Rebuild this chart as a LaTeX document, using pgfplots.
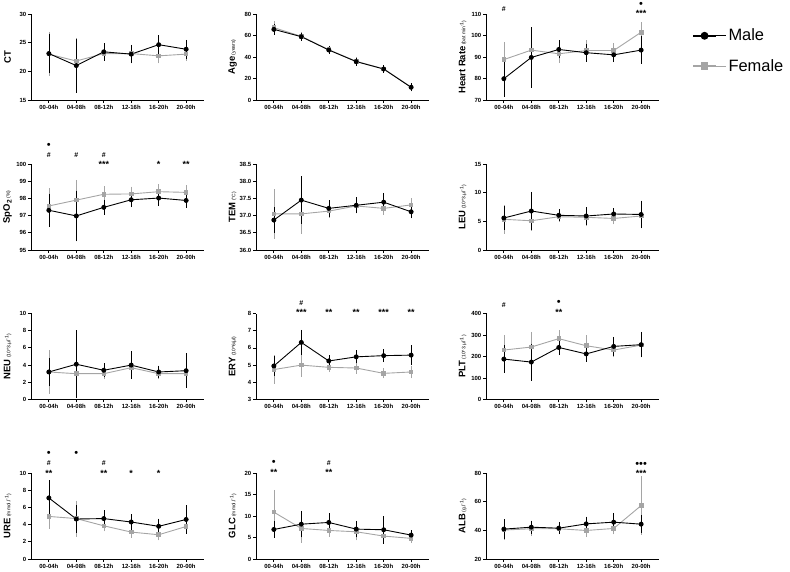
\documentclass[border=0pt]{standalone}
\usepackage{fontspec}
\setmainfont{Liberation Sans}
\usepackage{pgfplots}
\pgfplotsset{compat=1.18}
\definecolor{fem}{RGB}{165,165,165}
\pgfplotsset{
 panel/.style={
  scale only axis, width=173bp, height=86bp,
  axis lines=left,
  axis line style={-, line width=0.9pt},
  xmin=-0.65, xmax=5.65,
  xtick={0,1,2,3,4,5},
  xticklabels={00-04h,04-08h,08-12h,12-16h,16-20h,20-00h},
  tick align=outside,
  major tick length=3bp,
  tick style={black, line width=0.8pt},
  ticklabel style={font=\fontsize{6}{7}\selectfont\bfseries, inner sep=1.5pt},
  /pgf/number format/assume math mode=true,
  clip=false,
  ylabel style={at={(axis description cs:-0.135,0.5)}, anchor=center, font=\fontsize{9.5}{11}\selectfont\bfseries},
 },
 male/.style={black, line width=0.9pt, mark=*, mark size=2bp, mark options={solid},
  error bars/y dir=both, error bars/y explicit,
  error bars/error bar style={line width=0.5pt, black},
  error bars/error mark options={black, line width=0.5pt, mark size=3bp}},
 female/.style={fem, line width=0.9pt, mark=square*, mark size=1.8bp, mark options={solid},
  error bars/y dir=both, error bars/y explicit,
  error bars/error bar style={line width=0.5pt, fem},
  error bars/error mark options={fem, line width=0.5pt, mark size=3bp}},
}
\newcommand\unit[1]{{\fontsize{5}{6}\selectfont\mdseries\ #1}}
\newcommand\ann[3]{\node[inner sep=0pt, font=\fontsize{9}{10}\selectfont\bfseries, yshift=#2] at ({axis cs:#1,0}|-{rel axis cs:0,1}) {#3};}
\newcommand\hsh[2]{\node[inner sep=0pt, font=\fontsize{7}{8}\selectfont\bfseries, yshift=#2] at ({axis cs:#1,0}|-{rel axis cs:0,1}) {\#};}
\newcommand\dotm[3]{\node[inner sep=0pt, font=\fontsize{11}{12}\selectfont, yshift=#2] at ({axis cs:#1,0}|-{rel axis cs:0,1}) {#3};}
\begin{document}
\begin{tikzpicture}
\path[use as bounding box] (0,0) rectangle (790bp,572bp);
% ---------- CT
\begin{axis}[panel, at={(31bp,472bp)}, anchor=south west, ymin=15, ymax=30, ytick={15,20,25,30}, ylabel={CT}]
\addplot[female] table[x=x,y=y,y error=e] {
x y e
0 23.0 3.3
1 21.8 3.5
2 23.1 0.7
3 23.1 0.8
4 22.7 0.8
5 23.0 0.7
};
\addplot[male] table[x=x,y=y,y error=e] {
x y e
0 23.1 2.9
1 21.0 4.2
2 23.4 1.0
3 23.0 1.1
4 24.65 1.1
5 23.85 1.1
};
\end{axis}
% ---------- Age
\begin{axis}[panel, at={(256bp,472bp)}, anchor=south west, ymin=0, ymax=80, ytick={0,20,40,60,80}, ylabel={Age\unit{(years)}}]
\addplot[female] table[x=x,y=y,y error=e] {
x y e
0 67.3 3
1 59.2 1
2 46.8 1
3 36.0 1
4 29.0 0.8
5 12.0 1
};
\addplot[male] table[x=x,y=y,y error=e] {
x y e
0 65.7 2
1 58.9 1
2 46.5 1
3 35.7 1
4 28.8 0.8
5 11.8 1
};
\end{axis}
% ---------- Heart rate
\begin{axis}[panel, at={(486bp,472bp)}, anchor=south west, ymin=70, ymax=110, ytick={70,80,90,100,110}, ylabel={Heart Rate\unit{(bat min\textsuperscript{-1})}},
 legend style={at={(axis description cs:1.19,0.85)}, anchor=north west, draw=none, fill=none, font=\fontsize{16.5}{19}\selectfont, row sep=13bp, inner sep=0pt},
 legend cell align=left, reverse legend,
 legend image code/.code={\draw[mark repeat=2,mark phase=2, line width=2bp, mark size=2.9bp] plot coordinates {(0bp,0bp) (11.5bp,0bp) (23bp,0bp)}; \path (0bp,0bp) -- (33bp,0bp);}]
\addplot[female] table[x=x,y=y,y error=e] {
x y e
0 88.8 6.6
1 93.2 3
2 91.5 3
3 93.0 3.5
4 93.0 2
5 101.5 3.3
};
\addplot[male] table[x=x,y=y,y error=e] {
x y e
0 79.9 7
1 89.8 12.7
2 93.5 2.8
3 92.0 2.8
4 91.0 2.0
5 93.2 5.0
};
\legend{Female, Male}
\hsh{0}{5bp}
\dotm{5}{9bp}{•}
\ann{5}{1bp}{***}
\end{axis}
% ---------- SpO2
\begin{axis}[panel, at={(31bp,322bp)}, anchor=south west, ymin=95, ymax=100, ytick={95,96,97,98,99,100}, ylabel={SpO\textsubscript{2}\unit{(\%)}}]
\addplot[female] table[x=x,y=y,y error=e] {
x y e
0 97.56 0.85
1 97.9 1.0
2 98.24 0.3
3 98.26 0.25
4 98.39 0.25
5 98.35 0.25
};
\addplot[male] table[x=x,y=y,y error=e] {
x y e
0 97.31 0.8
1 96.98 1.3
2 97.48 0.25
3 97.92 0.25
4 98.02 0.3
5 97.88 0.25
};
\dotm{0}{18bp}{•}
\hsh{0}{9bp}
\hsh{1}{9bp}
\hsh{2}{9bp}
\ann{2}{0bp}{***}
\ann{4}{0bp}{*}
\ann{5}{0bp}{**}
\end{axis}
% ---------- TEM
\begin{axis}[panel, at={(256bp,322bp)}, anchor=south west, ymin=36, ymax=38.5, ytick={36,36.5,37,37.5,38,38.5}, yticklabel style={/pgf/number format/.cd, fixed, fixed zerofill, precision=1}, ylabel={TEM\unit{(°C)}}]
\addplot[female] table[x=x,y=y,y error=e] {
x y e
0 37.05 0.63
1 37.05 0.5
2 37.13 0.1
3 37.28 0.12
4 37.21 0.1
5 37.31 0.1
};
\addplot[male] table[x=x,y=y,y error=e] {
x y e
0 36.87 0.28
1 37.45 0.6
2 37.21 0.15
3 37.30 0.15
4 37.39 0.18
5 37.11 0.1
};
\end{axis}
% ---------- LEU
\begin{axis}[panel, at={(486bp,322bp)}, anchor=south west, ymin=0, ymax=15, ytick={0,5,10,15}, ylabel={LEU\unit{(10\textasciicircum 3.µl\textsuperscript{-1})}}]
\addplot[female] table[x=x,y=y,y error=e] {
x y e
0 5.35 2.0
1 5.1 1.2
2 5.8 0.4
3 5.7 1.0
4 5.5 0.5
5 5.93 0.5
};
\addplot[male] table[x=x,y=y,y error=e] {
x y e
0 5.58 1.5
1 6.8 2.8
2 6.05 0.5
3 5.93 1.0
4 6.28 0.5
5 6.2 1.9
};
\end{axis}
% ---------- NEU
\begin{axis}[panel, at={(31bp,172.5bp)}, anchor=south west, ymin=0, ymax=10, ytick={0,2,4,6,8,10}, ylabel={NEU\unit{(10\textasciicircum 3.µl\textsuperscript{-1})}}]
\addplot[female] table[x=x,y=y,y error=e] {
x y e
0 3.2 2.2
1 3.0 1.5
2 3.0 0.3
3 3.7 1.0
4 3.0 0.3
5 3.0 1.25
};
\addplot[male] table[x=x,y=y,y error=e] {
x y e
0 3.2 1.3
1 4.1 3.6
2 3.4 0.45
3 4.0 1.25
4 3.2 0.4
5 3.35 1.65
};
\end{axis}
% ---------- ERY
\begin{axis}[panel, at={(256bp,172.5bp)}, anchor=south west, ymin=3, ymax=8, ytick={3,4,5,6,7,8}, ylabel={ERY\unit{(10\textasciicircum 6/µl)}}]
\addplot[female] table[x=x,y=y,y error=e] {
x y e
0 4.74 0.65
1 5.0 0.5
2 4.87 0.1
3 4.83 0.15
4 4.52 0.12
5 4.6 0.2
};
\addplot[male] table[x=x,y=y,y error=e] {
x y e
0 4.95 0.4
1 6.32 0.55
2 5.24 0.15
3 5.48 0.2
4 5.55 0.2
5 5.58 0.4
};
\hsh{1}{10bp}
\ann{1}{1bp}{***}
\ann{2}{1bp}{**}
\ann{3}{1bp}{**}
\ann{4}{1bp}{***}
\ann{5}{1bp}{**}
\end{axis}
% ---------- PLT
\begin{axis}[panel, at={(486bp,172.5bp)}, anchor=south west, ymin=0, ymax=400, ytick={0,100,200,300,400}, ylabel={PLT\unit{(10\textasciicircum 3.µl\textsuperscript{-1})}}]
\addplot[female] table[x=x,y=y,y error=e] {
x y e
0 230 57
1 244 57
2 283 25
3 250 35
4 230 20
5 253 30
};
\addplot[male] table[x=x,y=y,y error=e] {
x y e
0 188 50
1 174 72
2 242 22
3 212 22
4 247 30
5 255 45
};
\hsh{0}{8bp}
\dotm{2}{11bp}{•}
\ann{2}{1bp}{**}
\end{axis}
% ---------- URE
\begin{axis}[panel, at={(31bp,13bp)}, anchor=south west, ymin=0, ymax=10, ytick={0,2,4,6,8,10}, ylabel={URE\unit{(mmol.l\textsuperscript{-1})}}]
\addplot[female] table[x=x,y=y,y error=e] {
x y e
0 4.95 1.1
1 4.7 1.75
2 3.86 0.3
3 3.13 0.3
4 2.82 0.3
5 3.78 0.4
};
\addplot[male] table[x=x,y=y,y error=e] {
x y e
0 7.1 1.7
1 4.65 1.25
2 4.7 0.6
3 4.3 0.55
4 3.8 0.55
5 4.6 1.3
};
\dotm{0}{19bp}{•}
\hsh{0}{10bp}
\ann{0}{0bp}{**}
\dotm{1}{19bp}{•}
\hsh{2}{10bp}
\ann{2}{0bp}{**}
\ann{3}{0bp}{*}
\ann{4}{0bp}{*}
\end{axis}
% ---------- GLC
\begin{axis}[panel, at={(256bp,13bp)}, anchor=south west, ymin=0, ymax=20, ytick={0,5,10,15,20}, ylabel={GLC\unit{(mmol.l\textsuperscript{-1})}}]
\addplot[female] table[x=x,y=y,y error=e] {
x y e
0 10.9 4.5
1 7.1 2.6
2 6.64 0.8
3 6.33 1.3
4 5.33 0.9
5 4.8 0.4
};
\addplot[male] table[x=x,y=y,y error=e] {
x y e
0 6.87 1.2
1 8.1 2.4
2 8.5 1.4
3 6.95 1.2
4 6.8 2.5
5 5.56 0.4
};
\dotm{0}{10bp}{•}
\ann{0}{1bp}{**}
\hsh{2}{10bp}
\ann{2}{1bp}{**}
\end{axis}
% ---------- ALB
\begin{axis}[panel, at={(486bp,13bp)}, anchor=south west, ymin=20, ymax=80, ytick={20,40,60,80}, ylabel={ALB\unit{(g.l\textsuperscript{-1})}}]
\addplot[female] table[x=x,y=y,y error=e] {
x y e
0 40.2 5
1 41.1 3
2 41.1 1.5
3 39.9 2.5
4 41.3 2
5 57.3 18.3
};
\addplot[male] table[x=x,y=y,y error=e] {
x y e
0 40.85 4.7
1 42.2 2.5
2 41.5 2
3 44.5 3
4 45.7 4.3
5 44.3 4
};
\dotm{5}{8bp}{•••}
\ann{5}{0bp}{***}
\end{axis}
\end{tikzpicture}
\end{document}
